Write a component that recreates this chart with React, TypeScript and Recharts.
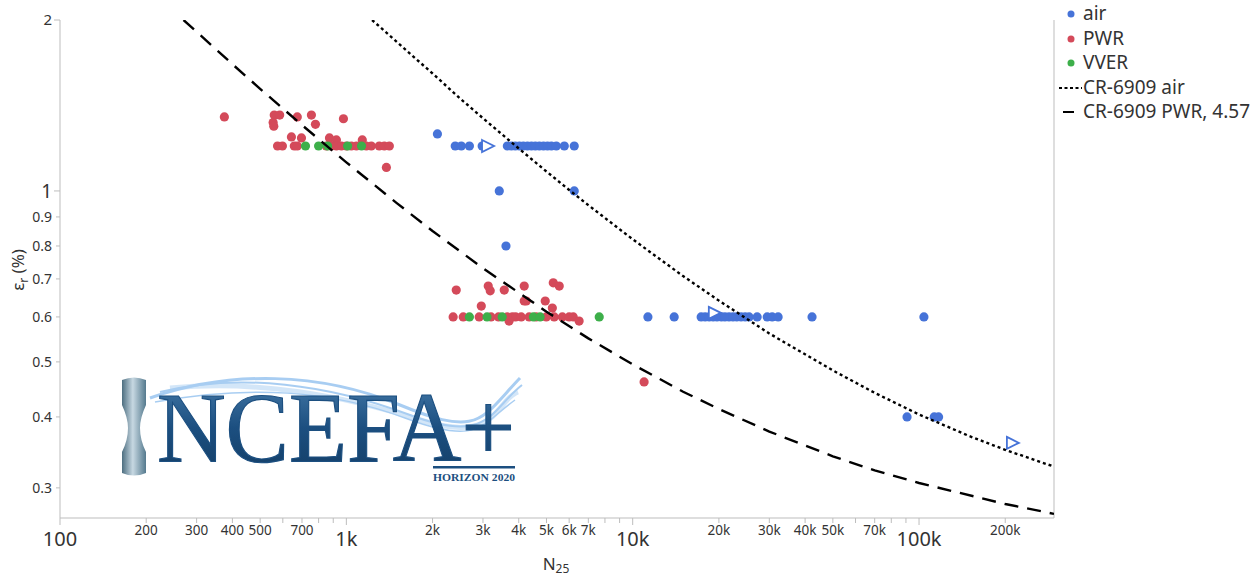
import React from 'react';
import { ScatterChart, Scatter, XAxis, YAxis, ReferenceLine } from 'recharts';

const FONT = '"Noto Sans", "Open Sans", sans-serif';
const BLUE = '#4673d8';
const RED = '#d44a5a';
const GREEN = '#3daf4a';
const AXIS = '#bdbdbd';
const TEXT = '#333';

// axis ticks
const X_TICKS = [100, 200, 300, 400, 500, 600, 700, 800, 900, 1000, 2000, 3000, 4000, 5000, 6000, 7000, 8000, 9000, 10000, 20000, 30000, 40000, 50000, 60000, 70000, 80000, 90000, 100000, 200000];
const X_LABELS: Record<number, string> = {
  100: '100', 200: '200', 300: '300', 400: '400', 500: '500', 700: '700',
  1000: '1k', 2000: '2k', 3000: '3k', 4000: '4k', 5000: '5k', 6000: '6k', 7000: '7k',
  10000: '10k', 20000: '20k', 30000: '30k', 40000: '40k', 50000: '50k', 70000: '70k',
  100000: '100k', 200000: '200k',
};
const X_MAJOR = [100, 1000, 10000, 100000];
const Y_TICKS = [0.3, 0.4, 0.5, 0.6, 0.7, 0.8, 0.9, 1, 2];

// air tests
const AIR_N = [
  2080,
  2400, 2520, 2690, 2980, 3650, 3770, 3890, 4020, 4150, 4290, 4430, 4570, 4720, 4880, 5040, 5200, 5410, 5770, 6250,
  3420, 6250, 3610,
  11300, 13960, 17340, 17900, 18500, 19100, 19700, 20400, 21000, 21700, 22400, 23100, 23900, 24700, 25500, 27200, 29500, 30700, 32200, 42300, 104000,
  90800, 113000, 117000,
];
const AIR_EPS = [
  1.26,
  1.2, 1.2, 1.2, 1.2, 1.2, 1.2, 1.2, 1.2, 1.2, 1.2, 1.2, 1.2, 1.2, 1.2, 1.2, 1.2, 1.2, 1.2, 1.2,
  1.0, 1.0, 0.8,
  0.6, 0.6, 0.6, 0.6, 0.6, 0.6, 0.6, 0.6, 0.6, 0.6, 0.6, 0.6, 0.6, 0.6, 0.6, 0.6, 0.6, 0.6, 0.6, 0.6, 0.6,
  0.4, 0.4, 0.4,
];

// air runouts (open triangles)
const RUNOUT_N = [3100, 19200, 211000];
const RUNOUT_EPS = [1.2, 0.61, 0.36];

// PWR tests
const PWR_N = [
  375, 560, 585, 555, 558, 674, 755, 780, 977,
  643, 697, 873, 923, 1137,
  575, 598, 658, 674, 851, 886, 923, 961, 1000, 1041, 1084, 1174, 1222, 1303, 1357, 1413,
  1380,
  2420, 3130, 3180, 3560, 4180, 5280, 5540, 2960, 4180, 4250, 4950, 5240,
  2360, 2560, 2910, 3200, 3400, 3650, 3800, 3900, 4080, 4350, 4600, 4990, 5320, 5680, 6000, 6200,
  3700, 6500, 10960,
];
const PWR_EPS = [
  1.35, 1.36, 1.36, 1.32, 1.3, 1.35, 1.36, 1.31, 1.34,
  1.245, 1.24, 1.24, 1.23, 1.23,
  1.2, 1.2, 1.2, 1.2, 1.2, 1.2, 1.2, 1.2, 1.2, 1.2, 1.2, 1.2, 1.2, 1.2, 1.2, 1.2,
  1.1,
  0.669, 0.68, 0.667, 0.669, 0.68, 0.689, 0.68, 0.627, 0.64, 0.64, 0.64, 0.622,
  0.6, 0.6, 0.6, 0.6, 0.6, 0.6, 0.6, 0.6, 0.6, 0.6, 0.6, 0.6, 0.6, 0.6, 0.6, 0.6,
  0.59, 0.59, 0.461,
];

// VVER tests
const VVER_N = [720, 800, 860, 1010, 1130, 2690, 3100, 3500, 4500, 4750, 7640];
const VVER_EPS = [1.2, 1.2, 1.2, 1.2, 1.2, 0.6, 0.6, 0.6, 0.6, 0.6, 0.6];

// design curves
const AIR_CURVE_N = [1230, 1500, 2000, 2500, 3000, 4000, 5000, 6000, 7000, 10000, 15000, 20000, 30000, 50000, 70000, 100000, 150000, 200000, 296000];
const AIR_CURVE_EPS = [2.0, 1.83, 1.61, 1.454, 1.343, 1.188, 1.082, 1.004, 0.944, 0.822, 0.708, 0.641, 0.561, 0.483, 0.441, 0.404, 0.37, 0.35, 0.327];
const PWR_CURVE_N = [270, 300, 400, 500, 700, 1000, 1500, 2000, 3000, 5000, 7000, 10000, 15000, 20000, 30000, 50000, 70000, 100000, 200000, 296000];
const PWR_CURVE_EPS = [2.0, 1.907, 1.672, 1.513, 1.306, 1.123, 0.952, 0.85, 0.731, 0.613, 0.55, 0.495, 0.443, 0.413, 0.377, 0.341, 0.322, 0.306, 0.281, 0.27];

const zip = (xs: number[], ys: number[]) => xs.map((x, i) => ({ x, y: ys[i] }));

const dot = (color: string) => (p: any) => <circle cx={p.cx} cy={p.cy} r={4.6} fill={color} />;
const runout = (p: any) => (
  <polygon
    points={`${p.cx - 5},${p.cy - 6} ${p.cx + 7},${p.cy} ${p.cx - 5},${p.cy + 6}`}
    fill="#fff"
    stroke={BLUE}
    strokeWidth={1.8}
  />
);
const noShape = () => <g />;

const XTick = (p: any) => {
  const v = p.payload.value;
  const major = X_MAJOR.includes(v);
  const label = X_LABELS[v];
  return (
    <g>
      <line x1={p.x} x2={p.x} y1={p.y} y2={p.y + (major ? 7 : 5)} stroke={AXIS} />
      {label && (
        <text x={p.x} y={p.y + (major ? 28 : 17)} textAnchor="middle" fill={TEXT} fontFamily={FONT} fontSize={major ? 20 : 13.5}>
          {label}
        </text>
      )}
    </g>
  );
};

const YTick = (p: any) => {
  const v = p.payload.value;
  const big = v === 1;
  const size = big ? 19 : v === 2 ? 15 : 14;
  return (
    <g>
      <line x1={p.x} x2={p.x - (v >= 1 ? 6 : 4)} y1={p.y} y2={p.y} stroke={AXIS} />
      <text x={p.x - 8} y={p.y + size * 0.36} textAnchor="end" fill={TEXT} fontFamily={FONT} fontSize={size}>
        {String(v)}
      </text>
    </g>
  );
};

const Overlay = () => (
  <svg width={1260} height={580} style={{ position: 'absolute', left: 0, top: 0, pointerEvents: 'none' }}>
    <defs>
      <linearGradient id="logoText" x1="0" y1="0" x2="0" y2="1">
        <stop offset="0" stopColor="#4a7fae" />
        <stop offset="0.5" stopColor="#1c4f80" />
        <stop offset="1" stopColor="#123b62" />
      </linearGradient>
      <linearGradient id="spec" x1="0" y1="0" x2="1" y2="0">
        <stop offset="0" stopColor="#4d6e80" />
        <stop offset="0.45" stopColor="#c7d8e2" />
        <stop offset="1" stopColor="#557a8e" />
      </linearGradient>
    </defs>

    {/* axis titles */}
    <text transform="translate(24,270) rotate(-90)" textAnchor="middle" fontFamily={FONT} fontSize={17} fill={TEXT}>
      ε<tspan fontSize={12} dy={4}>r</tspan>
      <tspan dy={-4}> (%)</tspan>
    </text>
    <text x={556} y={570} textAnchor="middle" fontFamily={FONT} fontSize={17} fill={TEXT}>
      N<tspan fontSize={12} dy={3}>25</tspan>
    </text>

    {/* legend */}
    <g fontFamily={FONT} fontSize={19} fill={TEXT}>
      <circle cx={1071} cy={14} r={3.5} fill={BLUE} />
      <text x={1083} y={20}>air</text>
      <circle cx={1071} cy={39} r={3.5} fill={RED} />
      <text x={1083} y={45}>PWR</text>
      <circle cx={1071} cy={63} r={3.5} fill={GREEN} />
      <text x={1083} y={69}>VVER</text>
      <line x1={1059} x2={1082} y1={88} y2={88} stroke="#000" strokeWidth={2} strokeDasharray="3 2.5" />
      <text x={1083} y={94}>CR-6909 air</text>
      <line x1={1063} x2={1074} y1={112} y2={112} stroke="#000" strokeWidth={2} />
      <text x={1083} y={118}>CR-6909 PWR, 4.57</text>
    </g>

    {/* INCEFA+ logo */}
    <g opacity={0.55} fill="none" stroke="#62a6e8">
      <path d="M150 398 C 230 370, 320 372, 400 405 S 480 420, 520 378" strokeWidth={3} />
      <path d="M160 392 C 240 372, 330 385, 410 415 S 490 410, 522 385" strokeWidth={2} />
      <path d="M170 388 C 260 380, 340 395, 420 420 S 495 400, 518 392" strokeWidth={5} opacity={0.5} />
      <path d="M155 402 C 250 385, 330 390, 405 418 S 480 425, 515 400" strokeWidth={1.5} />
    </g>
    <path
      d="M122 380 Q 134 375 146 380 L 146 405 Q 140 418 140 428 Q 140 440 146 452 L 146 473 Q 134 478 122 473 L 122 452 Q 128 440 128 428 Q 128 418 122 405 Z"
      fill="url(#spec)"
    />
    <text
      x={157}
      y={461}
      fontFamily='"Liberation Serif", "DejaVu Serif", serif'
      fontSize={100}
      fill="url(#logoText)"
      stroke="#1c4f80"
      strokeWidth={1.2}
      textLength={358}
      lengthAdjust="spacingAndGlyphs"
    >
      NCEFA+
    </text>
    <rect x={433} y={466} width={82} height={2.5} fill="#1c4f80" />
    <text x={433} y={481} fontFamily='"Liberation Serif", serif' fontWeight="bold" fontSize={10.5} fill="#1c4f80" textLength={82} lengthAdjust="spacingAndGlyphs">
      HORIZON 2020
    </text>
  </svg>
);

export default function App() {
  return (
    <div style={{ position: 'absolute', left: 0, top: 0, width: 1260, height: 580, background: '#fff' }}>
      <ScatterChart width={1260} height={580} margin={{ top: 20, right: 206, bottom: 22, left: 10 }}>
        <XAxis
          type="number"
          dataKey="x"
          scale="log"
          domain={[100, 296000]}
          ticks={X_TICKS}
          interval={0}
          tick={XTick}
          tickLine={false}
          tickSize={0}
          tickMargin={0}
          axisLine={{ stroke: AXIS }}
          height={40}
          allowDataOverflow
        />
        <YAxis
          type="number"
          dataKey="y"
          scale="log"
          domain={[0.2655, 2]}
          ticks={Y_TICKS}
          interval={0}
          tick={YTick}
          tickLine={false}
          tickSize={0}
          tickMargin={0}
          axisLine={{ stroke: AXIS }}
          width={50}
          allowDataOverflow
        />
        <ReferenceLine x={296000} stroke={AXIS} />
        <Scatter name="air" data={zip(AIR_N, AIR_EPS)} fill={BLUE} shape={dot(BLUE)} isAnimationActive={false} />
        <Scatter name="air runout" data={zip(RUNOUT_N, RUNOUT_EPS)} fill={BLUE} shape={runout} isAnimationActive={false} />
        <Scatter name="PWR" data={zip(PWR_N, PWR_EPS)} fill={RED} shape={dot(RED)} isAnimationActive={false} />
        <Scatter name="VVER" data={zip(VVER_N, VVER_EPS)} fill={GREEN} shape={dot(GREEN)} isAnimationActive={false} />
        <Scatter
          name="CR-6909 air"
          data={zip(AIR_CURVE_N, AIR_CURVE_EPS)}
          shape={noShape}
          line={{ stroke: '#000', strokeWidth: 2.4, strokeDasharray: '3 3' }}
          lineType="joint"
          isAnimationActive={false}
        />
        <Scatter
          name="CR-6909 PWR, 4.57"
          data={zip(PWR_CURVE_N, PWR_CURVE_EPS)}
          shape={noShape}
          line={{ stroke: '#000', strokeWidth: 2.4, strokeDasharray: '14 9' }}
          lineType="joint"
          isAnimationActive={false}
        />
      </ScatterChart>
      <Overlay />
    </div>
  );
}
